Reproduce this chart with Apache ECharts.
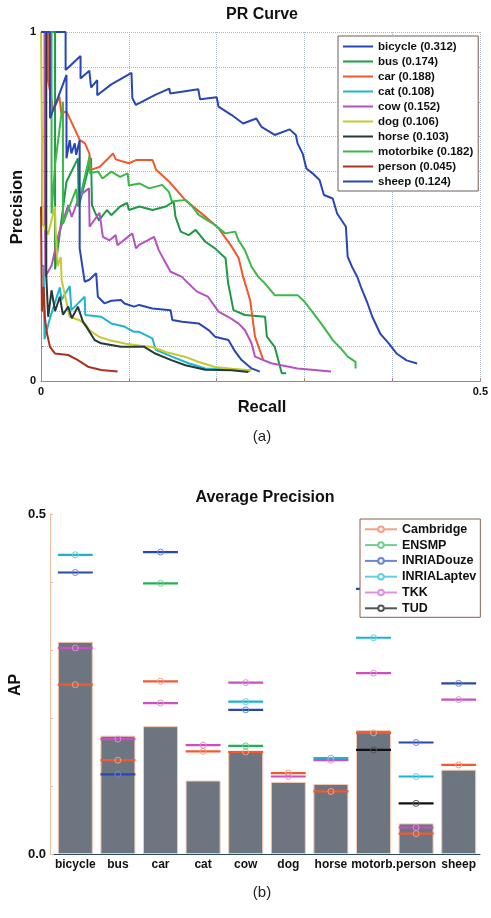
<!DOCTYPE html>
<html><head><meta charset="utf-8">
<script src="https://cdn.jsdelivr.net/npm/echarts/dist/echarts.min.js"></script>
<style>html,body{margin:0;padding:0;background:#fff}#c{width:491px;height:918px}</style>
</head><body><div id="c"></div><script>
// ---------- PR curve data ----------
const classes = ['bicycle','bus','car','cat','cow','dog','horse','motorbike','person','sheep'];
const apValues = [0.312,0.174,0.188,0.108,0.152,0.106,0.103,0.182,0.045,0.124];
const prColors = ['#2846b4','#1e9a46','#f2592a','#1eb4d2','#b452c0','#c8c830','#253a3a','#3cb84a','#a8341e','#2846b4'];

const bicyclePR = [[0,1],[0.028,1],[0.028,0.891],[0.045,0.931],[0.045,0.867],[0.055,0.889],[0.057,0.841],[0.064,0.862],[0.064,0.819],[0.08,0.85],[0.103,0.883],[0.104,0.81],[0.108,0.791],[0.13,0.82],[0.146,0.838],[0.147,0.824],[0.179,0.836],[0.181,0.807],[0.2,0.813],[0.202,0.786],[0.217,0.762],[0.23,0.738],[0.245,0.752],[0.251,0.728],[0.266,0.705],[0.283,0.721],[0.29,0.705],[0.292,0.681],[0.298,0.65],[0.302,0.609],[0.309,0.595],[0.317,0.576],[0.322,0.533],[0.332,0.523],[0.337,0.48],[0.347,0.442],[0.349,0.356],[0.354,0.327],[0.36,0.298],[0.364,0.27],[0.371,0.227],[0.377,0.184],[0.386,0.136],[0.396,0.107],[0.405,0.078],[0.416,0.059],[0.428,0.05]];
const busPR = [[0,1],[0.016,1],[0.016,0.32],[0.029,0.571],[0.042,0.638],[0.043,0.5],[0.044,0.504],[0.057,0.639],[0.058,0.504],[0.062,0.48],[0.066,0.46],[0.075,0.49],[0.08,0.475],[0.09,0.5],[0.098,0.51],[0.1,0.49],[0.112,0.5],[0.127,0.49],[0.142,0.5],[0.151,0.514],[0.153,0.471],[0.159,0.428],[0.168,0.418],[0.176,0.433],[0.187,0.399],[0.198,0.38],[0.21,0.352],[0.213,0.28],[0.219,0.203],[0.232,0.189],[0.255,0.184],[0.257,0.127],[0.266,0.098],[0.27,0.06],[0.274,0.022],[0.279,0.022]];
const carPR = [[0,1],[0.008,1],[0.008,0.862],[0.014,0.777],[0.021,0.815],[0.023,0.767],[0.029,0.772],[0.038,0.724],[0.044,0.691],[0.05,0.681],[0.055,0.652],[0.057,0.605],[0.067,0.614],[0.082,0.652],[0.085,0.635],[0.1,0.624],[0.108,0.633],[0.127,0.633],[0.131,0.605],[0.146,0.571],[0.164,0.519],[0.187,0.471],[0.202,0.438],[0.217,0.385],[0.225,0.352],[0.23,0.299],[0.238,0.232],[0.2435,0.127],[0.253,0.06]];
const catPR = [[0,0.33],[0.003,0.33],[0.004,0.12],[0.0102,0.18],[0.0214,0.268],[0.0234,0.232],[0.0327,0.272],[0.0346,0.203],[0.0497,0.2415],[0.0504,0.189],[0.0685,0.184],[0.0798,0.165],[0.0948,0.156],[0.106,0.141],[0.1117,0.141],[0.1268,0.122],[0.1306,0.089],[0.149,0.07],[0.168,0.051],[0.187,0.036],[0.2246,0.0315],[0.238,0.028]];
const cowPR = [[0,1],[0.004,1],[0.004,0.68],[0.005,0.3],[0.012,0.33],[0.02,0.42],[0.031,0.504],[0.035,0.47],[0.044,0.532],[0.0546,0.552],[0.0553,0.442],[0.0666,0.482],[0.0704,0.413],[0.078,0.403],[0.085,0.418],[0.087,0.389],[0.104,0.423],[0.108,0.38],[0.1117,0.39],[0.1287,0.413],[0.134,0.375],[0.14,0.347],[0.1475,0.313],[0.16,0.299],[0.166,0.284],[0.1775,0.256],[0.19,0.2415],[0.202,0.199],[0.213,0.184],[0.2246,0.165],[0.232,0.146],[0.2396,0.108],[0.2435,0.07],[0.262,0.051],[0.292,0.036],[0.33,0.027]];
const dogPR = [[0,1],[0.002,1],[0.002,0.45],[0.008,0.42],[0.0158,0.5],[0.0165,0.44],[0.019,0.33],[0.0225,0.355],[0.0235,0.289],[0.0327,0.184],[0.044,0.174],[0.0515,0.16],[0.0553,0.145],[0.0666,0.126],[0.0779,0.117],[0.0967,0.107],[0.1117,0.102],[0.1268,0.0975],[0.1418,0.083],[0.1644,0.069],[0.1795,0.0545],[0.198,0.04],[0.217,0.035],[0.2397,0.031]];
const horsePR = [[0,1],[0.006,1],[0.006,0.3],[0.0082,0.184],[0.012,0.26],[0.016,0.2],[0.0214,0.2415],[0.025,0.19],[0.031,0.213],[0.035,0.18],[0.042,0.213],[0.0477,0.17],[0.053,0.15],[0.061,0.1175],[0.0685,0.108],[0.091,0.098],[0.1174,0.098],[0.1306,0.078],[0.149,0.059],[0.1644,0.045],[0.187,0.0325],[0.217,0.031],[0.236,0.026]];
const motorbikePR = [[0,1],[0.012,1],[0.012,0.48],[0.016,0.62],[0.025,0.8],[0.025,0.45],[0.04,0.55],[0.042,0.5],[0.0553,0.644],[0.0555,0.595],[0.065,0.6],[0.07,0.58],[0.08,0.6],[0.09,0.585],[0.0986,0.595],[0.1,0.56],[0.112,0.566],[0.123,0.552],[0.138,0.562],[0.1456,0.542],[0.149,0.514],[0.1644,0.519],[0.172,0.5],[0.1795,0.476],[0.198,0.447],[0.2096,0.423],[0.221,0.428],[0.2246,0.404],[0.232,0.375],[0.2396,0.3275],[0.247,0.299],[0.2547,0.28],[0.266,0.246],[0.292,0.246],[0.3,0.227],[0.3073,0.203],[0.3187,0.165],[0.328,0.132],[0.332,0.117],[0.341,0.094],[0.349,0.07],[0.358,0.055],[0.358,0.036]];
const personPR = [[0,0.5],[0.001,0.5],[0.001,0.2],[0.003,0.27],[0.0045,0.18],[0.0064,0.141],[0.0102,0.098],[0.0158,0.079],[0.031,0.0745],[0.042,0.06],[0.0534,0.041],[0.0685,0.0315],[0.0872,0.027]];
const sheepPR = [[0,1],[0.0102,1],[0.0102,0.753],[0.016,0.79],[0.022,0.83],[0.029,0.877],[0.029,0.638],[0.0327,0.69],[0.0346,0.652],[0.0384,0.681],[0.04,0.648],[0.044,0.69],[0.044,0.38],[0.0497,0.2845],[0.055,0.29],[0.0628,0.3085],[0.0647,0.2415],[0.0722,0.2226],[0.08,0.23],[0.091,0.232],[0.095,0.222],[0.106,0.213],[0.1117,0.218],[0.1268,0.208],[0.1475,0.203],[0.1494,0.175],[0.1606,0.17],[0.1795,0.165],[0.1907,0.146],[0.198,0.127],[0.2133,0.1175],[0.221,0.084],[0.2283,0.06],[0.2396,0.036],[0.249,0.027]];
const prCurves = [bicyclePR,busPR,carPR,catPR,cowPR,dogPR,horsePR,motorbikePR,personPR,sheepPR];

// ---------- Average precision data ----------
const apCategories = ['bicycle','bus','car','cat','cow','dog','horse','motorb.','person','sheep'];
const bestAP = [0.312,0.174,0.188,0.108,0.152,0.106,0.103,0.182,0.045,0.124];
const teams = ['Cambridge','ENSMP','INRIADouze','INRIALaptev','TKK','TUD'];
const cambridgeAP   = [0.249,0.138,0.254,0.151,0.150,0.119,0.092,0.178,0.030,0.131];
const ensmpAP       = [null,null,0.398,null,0.159,null,null,null,null,null];
const inriaDouzeAP  = [0.414,0.117,0.444,null,0.212,null,null,0.390,0.164,0.251];
const inriaLaptevAP = [0.440,null,null,null,0.224,null,0.141,0.318,0.114,null];
const tkkAP         = [0.303,0.169,0.222,0.160,0.252,0.114,0.138,0.266,0.039,0.227];
const tudAP         = [null,null,null,null,null,null,null,0.153,0.0745,null];
const teamAP = [cambridgeAP,ensmpAP,inriaDouzeAP,inriaLaptevAP,tkkAP,tudAP];
const teamColors = ['#f05a30','#22b050','#2848b0','#18b4d0','#c850c0','#111111'];
const teamLight  = ['#f8a080','#70d090','#6a86d4','#60d0e8','#e090e0','#555555'];

const FONT = 'Liberation Sans, Arial, Helvetica, sans-serif';
const chart = echarts.init(document.getElementById('c'));
const LINE_ICON = 'path://M0,0 L30,0 L30,2 L0,2 Z';

const prSeries = classes.map((c,i)=>({
  type:'line', name: c + ' (' + apValues[i].toFixed(3) + ')',
  xAxisIndex:0, yAxisIndex:0, data: prCurves[i], symbol:'none',
  lineStyle:{width:2,color:prColors[i]}, itemStyle:{color:prColors[i]}, z:2
}));

const legendDummies = teams.map((t,i)=>({
  type:'line', name:t, xAxisIndex:1, yAxisIndex:1, data:[],
  symbol:'emptyCircle', symbolSize:6,
  lineStyle:{width:1,color:teamLight[i]}, itemStyle:{color:teamLight[i]}
}));

const teamSeries = teams.map((t,i)=>({
  type:'custom', name:t, xAxisIndex:1, yAxisIndex:1, z:3,
  encode:{x:0,y:1},
  data: teamAP[i].map((v,k)=> v==null?null:[k,v]).filter(d=>d),
  renderItem:function(params, api){
    const pt = api.coord([api.value(0), api.value(1)]);
    const w = api.size([1,0])[0]*0.82;
    return {type:'group', children:[
      {type:'line', shape:{x1:pt[0]-w/2,y1:pt[1],x2:pt[0]+w/2,y2:pt[1]}, style:{stroke:teamColors[i],lineWidth:2.2}},
      {type:'circle', shape:{cx:pt[0],cy:pt[1],r:3}, style:{fill:'none',stroke:teamLight[i],lineWidth:1}}
    ]};
  }
}));

const option = {
  animation:false,
  backgroundColor:'#ffffff',
  grid:[
    {left:41,right:7,top:32,bottom:537},
    {left:54,right:11,top:514,bottom:64}
  ],
  xAxis:[
    {type:'value',gridIndex:0,min:0,max:0.5,interval:0.1,
     axisLine:{show:true,onZero:false,lineStyle:{color:'#a08878',width:1}},
     axisTick:{show:true,inside:true,length:3,lineStyle:{color:'#a08878'}},
     axisLabel:{margin:5,color:'#111',fontFamily:FONT,fontWeight:'bold',fontSize:11,
       formatter:v=> (Math.abs(v)<1e-9?'0':(Math.abs(v-0.5)<1e-9?'0.5':''))},
     splitLine:{show:true,lineStyle:{type:'dotted',color:'#a9b8d0',width:1}}},
    {type:'category',gridIndex:1,data:apCategories,
     axisLine:{show:true,onZero:false,lineStyle:{color:'#2b4a5a',width:1}},
     axisTick:{show:false},
     axisLabel:{interval:0,margin:5,color:'#111',fontFamily:FONT,fontWeight:'bold',fontSize:12},
     splitLine:{show:false}}
  ],
  yAxis:[
    {type:'value',gridIndex:0,min:0,max:1,interval:0.1,
     axisLine:{show:true,onZero:false,lineStyle:{color:'#a08878',width:1}},
     axisTick:{show:true,inside:true,length:3,lineStyle:{color:'#a08878'}},
     axisLabel:{margin:5,color:'#111',fontFamily:FONT,fontWeight:'bold',fontSize:11,
       formatter:v=> (Math.abs(v)<1e-9?'0':(Math.abs(v-1)<1e-9?'1':''))},
     splitLine:{show:true,lineStyle:{type:'dotted',color:'#a9b8d0',width:1}}},
    {type:'value',gridIndex:1,min:0,max:0.5,interval:0.1,offset:4,
     axisLine:{show:true,lineStyle:{color:'#efbfa4',width:1}},
     axisTick:{show:true,inside:true,length:3,lineStyle:{color:'#efbfa4'}},
     axisLabel:{margin:4,color:'#111',fontFamily:FONT,fontWeight:'bold',fontSize:13,
       formatter:v=> (Math.abs(v)<1e-9?'0.0':(Math.abs(v-0.5)<1e-9?'0.5':''))},
     splitLine:{show:false}}
  ],
  legend:[
    {orient:'vertical',left:338,top:36,itemWidth:30,itemHeight:10,itemGap:3,
     padding:[4.5,5,3.5,5],borderColor:'#6e5e56',borderWidth:1,backgroundColor:'#ffffff',
     selectedMode:false,icon:LINE_ICON,data:prSeries.map(s=>s.name),
     textStyle:{color:'#111',fontFamily:FONT,fontWeight:'bold',fontSize:11.5}},
    {orient:'vertical',left:360,top:519,itemWidth:32,itemHeight:7,itemGap:2.8,
     padding:[3.8,4,2.5,4],borderColor:'#8a6050',borderWidth:1,backgroundColor:'#ffffff',
     selectedMode:false,data:teams,
     textStyle:{color:'#111',fontFamily:FONT,fontWeight:'bold',fontSize:12.5}}
  ],
  graphic:[
    {type:'text',x:262,y:15,style:{text:'PR Curve',font:'bold 16px '+FONT,fill:'#111',align:'center',verticalAlign:'middle'}},
    {type:'text',x:17,y:207,rotation:Math.PI/2,style:{text:'Precision',font:'bold 16.5px '+FONT,fill:'#111',align:'center',verticalAlign:'middle'}},
    {type:'text',x:262,y:407,style:{text:'Recall',font:'bold 16.5px '+FONT,fill:'#111',align:'center',verticalAlign:'middle'}},
    {type:'text',x:262,y:437,style:{text:'(a)',font:'15px '+FONT,fill:'#222',align:'center',verticalAlign:'middle'}},
    {type:'text',x:265,y:498,style:{text:'Average Precision',font:'bold 16px '+FONT,fill:'#111',align:'center',verticalAlign:'middle'}},
    {type:'text',x:16,y:685,rotation:Math.PI/2,style:{text:'AP',font:'bold 16px '+FONT,fill:'#111',align:'center',verticalAlign:'middle'}},
    {type:'text',x:262,y:893,style:{text:'(b)',font:'15px '+FONT,fill:'#222',align:'center',verticalAlign:'middle'}}
  ],
  series:[].concat(prSeries, [{
    type:'bar', name:'best', xAxisIndex:1, yAxisIndex:1, data:bestAP, barWidth:35, z:2,
    itemStyle:{color:'#6c7580',borderColor:'#f3c9b3',borderWidth:1}
  }], legendDummies, teamSeries)
};
chart.setOption(option);
</script></body></html>
